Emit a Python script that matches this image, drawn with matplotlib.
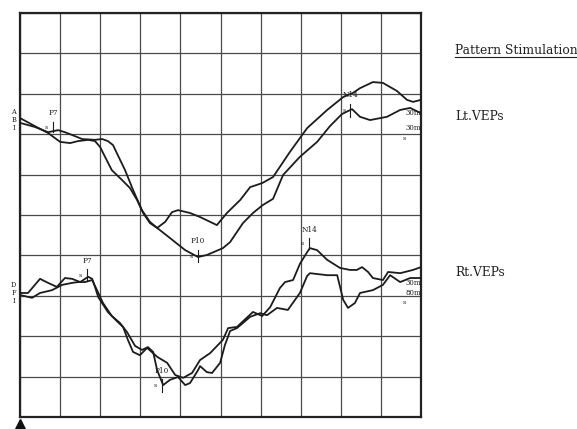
import matplotlib
matplotlib.use("Agg")
import matplotlib.pyplot as plt
from matplotlib.lines import Line2D

# ---- data (time in grid units 0-100, amplitude in grid units 0-100) ----
lt1_t = [0, 3.7, 7.0, 9.5, 11.2, 13.0, 15.5, 18.7, 20.5, 21.9, 23.2, 24.4, 26.2, 28.2, 30.4, 32.4, 34.2, 37.4, 41.2, 44.4,
         46.6, 50.6, 52.4, 55.6, 58.1, 60.6, 63.1, 65.6, 69.8, 74.1, 77.3, 80.3, 82.8, 84.8, 87.3, 91.5, 94.8, 97.3, 100]
lt1_v = [72.8, 71.8, 70.5, 71.0, 70.5, 69.8, 68.8, 68.6, 68.8, 68.3, 67.3, 64.8, 61.1, 56.2, 51.2, 48.3, 46.8, 44.3, 41.3, 39.6,
         40.1, 41.8, 43.3, 48.0, 50.5, 52.5, 54.0, 59.9, 64.4, 68.1, 72.0, 75.0, 76.2, 74.3, 73.5, 74.3, 76.0, 76.5, 75.2]

lt2_t = [0, 3.7, 7.0, 10.0, 12.5, 14.5, 17.0, 18.7, 20.0, 21.2, 22.9, 25.4, 27.4, 29.2, 30.7, 32.4, 34.2, 36.2, 37.9, 39.4,
         42.4, 44.9, 49.1, 51.6, 54.9, 57.4, 60.4, 63.1, 67.3, 71.6, 76.6, 80.6, 83.0, 84.8, 88.0, 90.5, 94.0, 96.5, 98.0, 100]
lt2_v = [74.0, 72.0, 70.3, 68.1, 67.8, 68.3, 68.6, 68.3, 66.8, 64.4, 61.1, 58.7, 56.7, 53.7, 50.5, 48.0, 46.8, 48.3, 50.7, 51.2,
         50.5, 49.5, 47.5, 50.5, 53.7, 56.9, 57.9, 59.4, 65.6, 71.5, 76.0, 79.2, 80.2, 81.4, 82.9, 82.7, 80.7, 78.5, 78.0, 78.5]

rt1_t = [0, 2.0, 5.0, 7.0, 9.2, 11.2, 13.0, 15.0, 17.0, 18.0, 18.7, 19.5, 21.9, 24.4, 25.7, 26.9, 28.2, 29.9, 31.7, 33.2,
         34.2, 36.7, 38.7, 40.7, 42.9, 44.9, 47.4, 50.6, 51.9, 54.1, 58.1, 60.4, 62.4, 64.8, 66.1, 68.1, 69.8, 71.6, 72.3, 74.1,
         76.6, 79.8, 82.3, 84.0, 85.3, 86.8, 88.0, 90.5, 91.8, 94.8, 98.0, 100]
rt1_v = [30.7, 30.7, 34.2, 33.2, 32.2, 34.4, 34.2, 33.4, 34.7, 34.2, 32.2, 29.7, 26.0, 23.5, 22.3, 19.1, 16.1, 15.3, 17.1, 15.8,
         14.9, 13.4, 10.4, 9.7, 10.9, 14.1, 15.8, 19.1, 22.0, 22.3, 26.0, 25.0, 27.2, 31.9, 33.4, 33.9, 37.9, 40.8, 41.8, 41.3,
         38.9, 36.9, 36.4, 36.4, 37.1, 35.9, 34.4, 33.9, 35.9, 35.6, 36.4, 37.1]

rt2_t = [0, 3.0, 5.0, 8.0, 10.5, 13.0, 14.5, 16.2, 18.0, 19.2, 20.7, 22.9, 24.9, 26.7, 28.7, 30.4, 31.9, 33.2, 34.2, 35.7,
         37.4, 39.4, 41.2, 42.4, 44.4, 44.9, 46.6, 47.9, 49.9, 51.1, 52.4, 54.1, 57.4, 59.9, 61.6, 64.1, 66.8, 69.8, 71.6, 72.3,
         76.6, 79.1, 80.6, 81.8, 83.5, 84.8, 88.0, 90.5, 92.3, 94.8, 97.3, 100]
rt2_v = [30.2, 29.5, 30.7, 31.4, 32.7, 33.2, 33.4, 33.4, 33.9, 31.4, 28.2, 25.0, 23.3, 21.0, 17.6, 16.6, 17.3, 16.1, 11.6, 7.9,
         9.2, 9.9, 7.9, 8.4, 11.6, 12.6, 11.1, 10.9, 13.4, 17.8, 21.3, 22.0, 24.8, 25.7, 25.2, 27.0, 26.5, 30.7, 34.9, 35.6,
         35.1, 35.1, 29.0, 27.0, 28.2, 30.7, 31.4, 32.7, 35.1, 33.4, 34.4, 34.4]

# peak markers: label, time, label level, tick top, tick bottom
peak_labels = ["P7", "P10", "N14", "P7", "P10", "N14"]
peak_t = [8.2, 44.4, 82.4, 16.7, 35.4, 72.1]
peak_text_v = [74.3, 42.6, 78.7, 37.6, 10.4, 45.3]
peak_tick_hi = [73.0, 41.3, 77.5, 36.6, 9.4, 44.3]
peak_tick_lo = [70.5, 38.3, 74.2, 33.6, 6.2, 41.6]

chan_top = ["A", "B", "I"]
chan_bot = ["D", "F", "I"]

fig = plt.figure(figsize=(5.77, 4.29), dpi=100)
ax = fig.add_axes([20 / 577, 12 / 429, 401 / 577, 404 / 429])
ax.set_xlim(0, 100)
ax.set_ylim(0, 100)
ax.set_xticks(range(0, 101, 10))
ax.set_yticks(range(0, 101, 10))
ax.tick_params(length=0, labelbottom=False, labelleft=False)
ax.grid(True, color="#4a4a4a", lw=0.9)
for s in ax.spines.values():
    s.set_linewidth(1.6)
    s.set_color("#222222")

ink = "#1c1c1c"
for t, v in [(lt1_t, lt1_v), (lt2_t, lt2_v), (rt1_t, rt1_v), (rt2_t, rt2_v)]:
    ax.plot(t, v, color=ink, lw=1.3, solid_joinstyle="round", zorder=3)

serif = "DejaVu Serif"
for lab, t, tv, hi, lo in zip(peak_labels, peak_t, peak_text_v, peak_tick_hi, peak_tick_lo):
    ax.text(t, tv, lab, fontsize=5.2, family=serif, ha="center", va="bottom", color=ink, zorder=4)
    ax.plot([t, t], [lo, hi], color=ink, lw=0.8, zorder=4)
    ax.text(t - 1.2, (hi + lo) / 2, "s", fontsize=4.5, family=serif, ha="right", va="center", color=ink, zorder=4)

# gain / timebase labels at the right end
ax.text(98.2, 75.2, "30m", fontsize=5.0, family=serif, ha="center", va="center", color=ink, zorder=4)
ax.text(98.2, 71.5, "30m", fontsize=5.0, family=serif, ha="center", va="center", color=ink, zorder=4)
ax.text(95.8, 69.0, "s", fontsize=4.5, family=serif, ha="center", va="center", color=ink, zorder=4)
ax.text(98.2, 33.2, "30m", fontsize=5.0, family=serif, ha="center", va="center", color=ink, zorder=4)
ax.text(98.2, 30.6, "80m", fontsize=5.0, family=serif, ha="center", va="center", color=ink, zorder=4)
ax.text(95.8, 28.4, "s", fontsize=4.5, family=serif, ha="center", va="center", color=ink, zorder=4)

# channel letters left of grid
for i, c in enumerate(chan_top):
    ax.text(-1.6, 75.4 - i * 1.9, c, fontsize=4.8, family=serif, ha="center", va="center",
            color=ink, clip_on=False)
for i, c in enumerate(chan_bot):
    ax.text(-1.6, 32.6 - i * 1.9, c, fontsize=4.8, family=serif, ha="center", va="center",
            color=ink, clip_on=False)

# start triangle
ax.plot([0], [-1.9], marker="^", markersize=9, color="#111111", clip_on=False, zorder=5)

# right side texts
t1 = fig.text(455 / 577, 1 - 50 / 429, "Pattern Stimulation", fontsize=8.8, family=serif,
              ha="left", va="center", color="#222222")
fig.text(455 / 577, 1 - 117 / 429, "Lt.VEPs", fontsize=8.8, family=serif, ha="left", va="center", color="#222222")
fig.text(455 / 577, 1 - 273 / 429, "Rt.VEPs", fontsize=8.8, family=serif, ha="left", va="center", color="#222222")

fig.canvas.draw()
bb = t1.get_window_extent()
x0, x1 = bb.x0 / fig.bbox.width, bb.x1 / fig.bbox.width
yline = 1 - 57 / 429
fig.add_artist(Line2D([x0, x1], [yline, yline], transform=fig.transFigure, color="#222222", lw=0.8))

fig.savefig("out.png", dpi=100, facecolor="white")
